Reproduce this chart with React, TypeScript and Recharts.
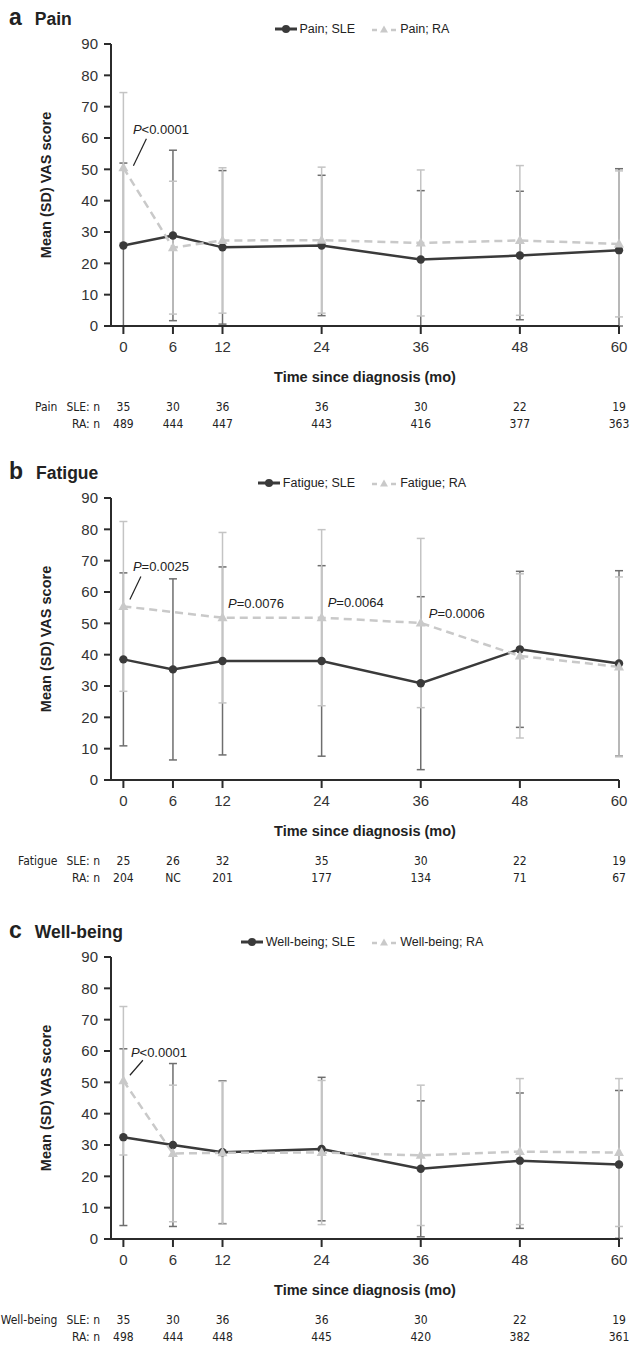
import React from "react";
import { LineChart, Line, XAxis, YAxis, ErrorBar, Legend, ReferenceDot } from "recharts";

const months = [0, 6, 12, 24, 36, 48, 60];
const yTicks = [0, 10, 20, 30, 40, 50, 60, 70, 80, 90];

// a: pain
const painSle = [25.7, 28.9, 25.1, 25.7, 21.2, 22.5, 24.2];
const painSleSd = [26.3, 27.2, 24.5, 22.4, 22.0, 20.5, 26.0];
const painRa = [50.5, 25.0, 27.3, 27.4, 26.5, 27.3, 26.2];
const painRaSd = [24.0, 21.2, 23.2, 23.3, 23.3, 23.9, 23.3];
const painSleN = ["35", "30", "36", "36", "30", "22", "19"];
const painRaN = ["489", "444", "447", "443", "416", "377", "363"];

// b: fatigue (RA at 6 mo not calculated)
const fatSle = [38.5, 35.3, 38.0, 38.0, 30.9, 41.7, 37.2];
const fatSleSd = [27.6, 28.9, 30.0, 30.4, 27.6, 24.9, 29.6];
const fatRa = [55.4, null, 51.8, 51.8, 50.1, 39.6, 36.1];
const fatRaSd = [27.1, null, 27.2, 28.1, 27.0, 26.2, 28.7];
const fatSleN = ["25", "26", "32", "35", "30", "22", "19"];
const fatRaN = ["204", "NC", "201", "177", "134", "71", "67"];

// c: well-being
const wbSle = [32.5, 30.0, 27.7, 28.7, 22.4, 25.0, 23.8];
const wbSleSd = [28.2, 26.0, 22.8, 22.9, 21.7, 21.6, 23.6];
const wbRa = [50.5, 27.3, 27.5, 27.6, 26.7, 27.9, 27.6];
const wbRaSd = [23.7, 21.8, 22.8, 23.0, 22.4, 23.3, 23.6];
const wbSleN = ["35", "30", "36", "36", "30", "22", "19"];
const wbRaN = ["498", "444", "448", "445", "420", "382", "361"];

const SLE_COLOR = "#3a3a3a";
const RA_COLOR = "#c9c9c9";
const SLE_BAR = "#6e6e6e";
const RA_BAR = "#c4c4c4";
const AXIS = "#2b2b2b";
const FONT = "'Liberation Sans', Arial, Helvetica, sans-serif";
const NARROW = "'Liberation Sans Narrow', 'Arial Narrow', 'DejaVu Sans Condensed', sans-serif";

type Note = { month: number; value: number; op: string; dx: number; dy: number; leader?: number[] };

const painNotes: Note[] = [{ month: 0, value: painRa[0], op: "<0.0001", dx: 9.5, dy: -38, leader: [23, -29, 10, -2] }];
const fatNotes: Note[] = [
  { month: 0, value: fatRa[0] as number, op: "=0.0025", dx: 9.5, dy: -40, leader: [17.5, -30, 6.5, -7] },
  { month: 12, value: fatRa[2] as number, op: "=0.0076", dx: 5.5, dy: -14.5 },
  { month: 24, value: fatRa[3] as number, op: "=0.0064", dx: 6, dy: -15.5 },
  { month: 36, value: fatRa[4] as number, op: "=0.0006", dx: 8, dy: -10 },
];
const wbNotes: Note[] = [{ month: 0, value: wbRa[0], op: "<0.0001", dx: 7.5, dy: -28.5, leader: [19.5, -20.5, 6.5, -5.5] }];

const buildRows = (sle: any[], sleSd: any[], ra: any[], raSd: any[]) =>
  months.map((m, i) => ({
    month: m,
    sle: sle[i],
    sleErr: [Math.min(sleSd[i], sle[i]), sleSd[i]],
    ra: ra[i],
    raErr: ra[i] == null ? null : [Math.min(raSd[i], ra[i]), raSd[i]],
  }));

const Triangle = (props: any) => {
  const { cx, cy, index } = props;
  if (cx == null || cy == null) return <g key={`t${index}`} />;
  return (
    <path
      key={`t${index}`}
      d={`M${cx},${cy - 5.5}L${cx + 5},${cy + 3.5}L${cx - 5},${cy + 3.5}Z`}
      fill={RA_COLOR}
    />
  );
};

const XTitle = (props: any) => {
  const vb = props.viewBox || {};
  return (
    <text x={vb.x + vb.width / 2} y={vb.y + 50.5} dy="0.35em" textAnchor="middle" fontSize={14.5} fontWeight="bold" fill="#222" fontFamily={FONT}>
      Time since diagnosis (mo)
    </text>
  );
};

const YTitle = (props: any) => {
  const vb = props.viewBox || {};
  const x = vb.x + 46;
  const y = vb.y + vb.height / 2;
  return (
    <text x={x} y={y} transform={`rotate(-90 ${x} ${y})`} dy="0.35em" textAnchor="middle" fontSize={14.5} fontWeight="bold" fill="#222" fontFamily={FONT}>
      Mean (SD) VAS score
    </text>
  );
};

const RowTitle = (props: any) => {
  const vb = props.viewBox || {};
  return (
    <text x={100} y={vb.y + 8.6} dy="0.71em" textAnchor="end" fontSize={12} fill="#222" fontFamily={NARROW}>
      {props.name ? <tspan>{props.name}</tspan> : null}
      <tspan dx={props.name ? 9 : 0}>{props.text}</tspan>
    </text>
  );
};

const NoteLabel = (props: any) => {
  const vb = props.viewBox || {};
  const n: Note = props.note;
  const cx = vb.x + (vb.width || 0) / 2;
  const cy = vb.y + (vb.height || 0) / 2;
  return (
    <g>
      <text x={cx + n.dx} y={cy + n.dy} dy="0.35em" fontSize={13} fill="#222" fontFamily={FONT}>
        <tspan fontStyle="italic">P</tspan>
        <tspan>{n.op}</tspan>
      </text>
      {n.leader ? (
        <line x1={cx + n.leader[0]} y1={cy + n.leader[1]} x2={cx + n.leader[2]} y2={cy + n.leader[3]} stroke="#222" strokeWidth={1.2} />
      ) : null}
    </g>
  );
};

function LegendBox({ sle, ra }: { sle: string; ra: string }) {
  return (
    <div style={{ display: "flex", justifyContent: "center", alignItems: "center", fontSize: 12.5, color: "#222", fontFamily: FONT, lineHeight: "16px", whiteSpace: "nowrap" }}>
      <svg width={22} height={10}>
        <line x1={0} y1={5} x2={22} y2={5} stroke={SLE_COLOR} strokeWidth={3} />
        <circle cx={11} cy={5} r={4} fill={SLE_COLOR} />
      </svg>
      <span style={{ marginLeft: 3 }}>{sle}</span>
      <svg style={{ marginLeft: 17 }} width={24} height={10}>
        <line x1={0} y1={6} x2={5} y2={6} stroke={RA_COLOR} strokeWidth={2.5} />
        <path d="M12,1.5L16,8.5L8,8.5Z" fill={RA_COLOR} />
        <line x1={19} y1={6} x2={24} y2={6} stroke={RA_COLOR} strokeWidth={2.5} />
      </svg>
      <span style={{ marginLeft: 4 }}>{ra}</span>
    </div>
  );
}

function Panel(p: {
  top: number; letter: string; title: string; rows: any[]; sleName: string; raName: string;
  tableLabel: string; sleN: string[]; raN: string[]; notes: Note[];
}) {
  const H = 436;
  const nAt = (arr: string[]) => (v: number) => arr[months.indexOf(v)] ?? "";
  return (
    <div style={{ position: "absolute", top: p.top, left: 0, width: 630, height: H }}>
      <div style={{ position: "absolute", left: 9, top: 4, fontFamily: FONT, fontWeight: "bold", lineHeight: "26px", whiteSpace: "nowrap", color: "#222" }}>
        <span style={{ fontSize: 23 }}>{p.letter}</span>
        <span style={{ fontSize: 17.5, marginLeft: 13 }}>{p.title}</span>
      </div>
      <LineChart width={630} height={H} data={p.rows} margin={{ top: 44, right: 11, bottom: 8, left: 0 }} style={{ fontFamily: FONT }}>
        <XAxis
          dataKey="month" type="number" domain={[-1.5, 60]} ticks={months} interval={0}
          height={68} tickSize={8} tickMargin={7}
          axisLine={{ stroke: AXIS, strokeWidth: 2 }} tickLine={{ stroke: AXIS, strokeWidth: 2 }}
          tick={{ fontSize: 15, fill: "#333" }}
          label={<XTitle />}
        />
        <XAxis
          xAxisId="n1" dataKey="month" type="number" domain={[-1.5, 60]} ticks={months} interval={0}
          height={17} axisLine={false} tickLine={false} tickSize={0} tickMargin={8.6}
          tick={{ fontSize: 12, fill: "#222", fontFamily: NARROW }} tickFormatter={nAt(p.sleN)}
          label={<RowTitle name={p.tableLabel} text="SLE: n" />}
        />
        <XAxis
          xAxisId="n2" dataKey="month" type="number" domain={[-1.5, 60]} ticks={months} interval={0}
          height={17} axisLine={false} tickLine={false} tickSize={0} tickMargin={8.6}
          tick={{ fontSize: 12, fill: "#222", fontFamily: NARROW }} tickFormatter={nAt(p.raN)}
          label={<RowTitle text="RA: n" />}
        />
        <YAxis
          type="number" domain={[0, 90]} ticks={yTicks} interval={0} width={111}
          tickSize={7} tickMargin={6}
          axisLine={{ stroke: AXIS, strokeWidth: 2 }} tickLine={{ stroke: AXIS, strokeWidth: 2 }}
          tick={{ fontSize: 15, fill: "#333" }}
          label={<YTitle />}
        />
        <Legend
          verticalAlign="middle" align="center" layout="horizontal"
          wrapperStyle={{ top: 20.5, left: 111, width: 502, height: 16 }}
          content={() => <LegendBox sle={p.sleName} ra={p.raName} />}
        />
        {/* invisible carriers so the n-table axes get the month domain */}
        <Line xAxisId="n1" dataKey="sle" stroke="none" dot={false} activeDot={false} legendType="none" isAnimationActive={false} />
        <Line xAxisId="n2" dataKey="sle" stroke="none" dot={false} activeDot={false} legendType="none" isAnimationActive={false} />
        <Line
          dataKey="sle" name={p.sleName} stroke={SLE_COLOR} strokeWidth={2.5}
          dot={{ r: 4.2, fill: SLE_COLOR, stroke: SLE_COLOR, strokeWidth: 0 }} activeDot={false}
          isAnimationActive={false}
        >
          <ErrorBar dataKey="sleErr" direction="y" width={4} stroke={SLE_BAR} strokeWidth={1.5} isAnimationActive={false} />
        </Line>
        <Line
          dataKey="ra" name={p.raName} stroke={RA_COLOR} strokeWidth={2.5} strokeDasharray="8 5"
          connectNulls dot={Triangle} activeDot={false} isAnimationActive={false}
        >
          <ErrorBar dataKey="raErr" direction="y" width={4} stroke={RA_BAR} strokeWidth={1.5} isAnimationActive={false} />
        </Line>
        {p.notes.map((n, i) => (
          <ReferenceDot key={i} x={n.month} y={n.value} r={0} fill="none" stroke="none" label={<NoteLabel note={n} />} />
        ))}
      </LineChart>
    </div>
  );
}

export default function App() {
  return (
    <div style={{ position: "absolute", left: 0, top: 0, width: 630, height: 1345, background: "#fff", fontFamily: FONT }}>
      <Panel
        top={0} letter="a" title="Pain" rows={buildRows(painSle, painSleSd, painRa, painRaSd)}
        sleName="Pain; SLE" raName="Pain; RA" tableLabel="Pain" sleN={painSleN} raN={painRaN} notes={painNotes}
      />
      <Panel
        top={454} letter="b" title="Fatigue" rows={buildRows(fatSle, fatSleSd, fatRa, fatRaSd)}
        sleName="Fatigue; SLE" raName="Fatigue; RA" tableLabel="Fatigue" sleN={fatSleN} raN={fatRaN} notes={fatNotes}
      />
      <Panel
        top={913} letter="c" title="Well-being" rows={buildRows(wbSle, wbSleSd, wbRa, wbRaSd)}
        sleName="Well-being; SLE" raName="Well-being; RA" tableLabel="Well-being" sleN={wbSleN} raN={wbRaN} notes={wbNotes}
      />
    </div>
  );
}
